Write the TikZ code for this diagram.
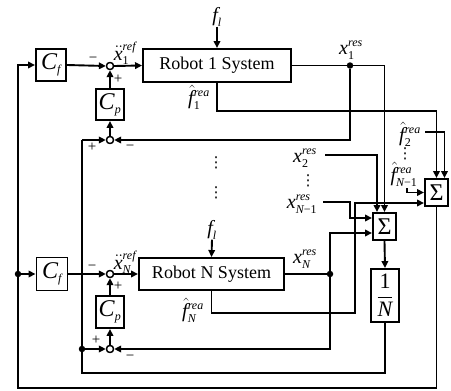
\documentclass[tikz,border=0pt]{standalone}
\usepackage{amsmath}
\usepackage{fontspec}
\setmainfont{Liberation Serif}
\newfontfamily\djv{DejaVu Sans}
\usetikzlibrary{arrows.meta,calc}
\newcommand\itl[1]{\text{\itshape #1}}
\newcommand\scr[1]{\text{\fontsize{12}{12}\selectfont\itshape #1}}
\newcommand\scu[1]{\text{\fontsize{12}{12}\selectfont #1}}
\begin{document}
\begin{tikzpicture}[x=1pt,y=-1pt,
  ln/.style={line width=1.9pt},
  tln/.style={line width=1.1pt},
  arr/.style={-{Triangle[length=7pt,width=6.5pt]}},
  blk/.style={draw, line width=1.9pt, inner sep=0pt, fill=white},
  sumj/.style={circle, draw, fill=white, line width=1.3pt, minimum size=7pt, inner sep=0pt},
  jdot/.style={circle, fill, inner sep=0pt, minimum size=6.5pt},
  lbl/.style={font=\fontsize{20}{22}\selectfont, inner sep=0pt},
  vdt/.style={font=\djv\fontsize{15}{15}\selectfont, inner sep=0pt},
  sgn/.style={font=\fontsize{15}{16}\selectfont, inner sep=0pt},
  bigc/.style={font=\fontsize{24}{26}\selectfont}]
\useasboundingbox (0,0) rectangle (451,391);

% ---- blocks ----
\node[blk,bigc,minimum width=30pt,minimum height=32pt] (cf1) at (51,65) {$\itl{C}_{\scr{f}}$};
\node[blk,bigc,minimum width=28pt,minimum height=31pt] (cp1) at (110,104.5) {$\itl{C}_{\scr{p}}$};
\node[blk,font=\fontsize{18}{20}\selectfont,minimum width=148pt,minimum height=33pt] (rb1) at (217,65.5) {Robot 1 System};
\node[blk,bigc,minimum width=31pt,minimum height=33pt] (cf2) at (52,274) {$\itl{C}_{\scr{f}}$};
\node[blk,bigc,minimum width=28pt,minimum height=32pt] (cp2) at (110,312) {$\itl{C}_{\scr{p}}$};
\node[blk,font=\fontsize{18}{20}\selectfont,minimum width=145pt,minimum height=32pt] (rbN) at (211.5,274) {Robot N System};
\node[blk,bigc,minimum width=23pt,minimum height=27pt] (S1) at (436.5,192.5) {Σ};
\node[blk,bigc,minimum width=23pt,minimum height=27pt] (S2) at (384.5,226.5) {Σ};
\node[blk,font=\fontsize{22}{24}\selectfont,minimum width=28pt,minimum height=53pt] (inv) at (385,295.5) {$\dfrac{\text{1}}{\itl{N}}$};

% ---- junctions and dots ----
\node[sumj] (sj1) at (110,66) {};
\node[sumj] (sj2) at (110,140) {};
\node[sumj] (sj3) at (110,274) {};
\node[sumj] (sj4) at (110,349) {};
\node[jdot] (d1) at (350,65.5) {};
\node[jdot] (dN) at (330,274) {};
\node[jdot] (dL) at (82,349) {};
\node[jdot] (dO) at (18,274) {};
\coordinate (tl) at (82,140);
\coordinate (bl2) at (82,373);
\coordinate (blc) at (18,388);
\coordinate (fnv) at (355,203);

% ---- labels ----
\node[lbl] (fl1) at (217,17) {$\itl{f}_{\scr{l}}$};
\node[lbl] (flN) at (212,230) {$\itl{f}_{\scr{l}}$};
\node[lbl] (xr1) at (125,53) {$\skew{1}\ddot{\itl{x}}_{\scu{1}}^{\scr{ref}}$};
\node[lbl] (xrN) at (125,262) {$\skew{1}\ddot{\itl{x}}_{\scr{N}}^{\scr{ref}}$};
\node[lbl] (x1) at (351,50) {$\itl{x}_{\scu{1}}^{\scr{res}}$};
\node[lbl] (fh1) at (199,97) {$\skew{2}\hat{\itl{f}}_{\scu{1}}^{\scr{rea}}$};
\node[lbl] (fhN) at (193,310) {$\skew{2}\hat{\itl{f}}_{\scr{N}}^{\scr{rea}}$};
\node[lbl] (x2) at (305,158) {$\itl{x}_{\scu{2}}^{\scr{res}}$};
\node[lbl] (xN1) at (302,204) {$\itl{x}_{\scr{N}\scu{−1}}^{\scr{res}}$};
\node[lbl] (xN) at (305,259) {$\itl{x}_{\scr{N}}^{\scr{res}}$};
\node[lbl] (fh2) at (410,134) {$\skew{2}\hat{\itl{f}}_{\scu{2}}^{\scr{rea}}$};
\node[lbl] (fhN1) at (404,174) {$\skew{2}\hat{\itl{f}}_{\scr{N}\scu{−1}}^{\scr{rea}}$};
\node[vdt] (vd1) at (216,163) {⋮};
\node[vdt] (vd2) at (216,193) {⋮};
\node[vdt] (vd3) at (308,181) {⋮};
\node[vdt] (vd4) at (405,154) {⋮};
\coordinate (x2c) at (325,155);
\coordinate (xn1c) at (323,202);
\coordinate (fh2c) at (425,132);
\coordinate (fn1c) at (407,188);

% signs
\node[sgn] at (93,60) {−};
\node[sgn] at (118,79) {+};
\node[sgn] at (92,147) {+};
\node[sgn] at (130,148) {−};
\node[sgn] at (92,268) {−};
\node[sgn] at (118,286) {+};
\node[sgn] at (96,340) {+};
\node[sgn] at (130,358) {−};

% ---- connectors: robot 1 ----
\draw[ln,arr] (cf1.east) -- (sj1.west);
\draw[ln,arr] (sj1.east) -- (rb1.west);
\draw[ln,arr] (fl1.south) -- (rb1.north);
\draw[ln,arr] (cp1.north) -- (sj1.south);
\draw[ln,arr] (sj2.north) -- (cp1.south);
\draw[ln,arr] (tl) -- (sj2.west);
\draw[ln,arr] (rb1.east) -| (S2.north);
\draw[ln,arr] (d1) |- (sj2.east);
\draw[ln,arr] (rb1.south) -- ++(0,28) -| (S1.north);
\draw[ln,arr] (fh2c) -| ([xshift=8pt]S1.north);
\draw[ln,arr] (fn1c) |- (S1.west);

% ---- connectors: robot N ----
\draw[ln,arr] (dO) -- (cf2.west);
\draw[ln,arr] (cf2.east) -- (sj3.west);
\draw[ln,arr] (sj3.east) -- (rbN.west);
\draw[ln,arr] (flN.south) -- (rbN.north);
\draw[ln,arr] (cp2.north) -- (sj3.south);
\draw[ln,arr] (sj4.north) -- (cp2.south);
\draw[ln,arr] (dL) -- (sj4.west);
\draw[ln] (rbN.east) -- (dN);
\draw[ln,arr] (dN) |- (sj4.east);
\draw[ln,arr] (dN) |- ([yshift=-6.5pt]S2.west);
\draw[ln,arr] (rbN.south) -- ++(0,22) -| (fnv) -- (fnv -| S1.west);

% ---- other inputs to sums ----
\draw[ln,arr] (x2c) -| ([xshift=-7.5pt]S2.north);
\draw[ln,arr] (xn1c) -- ++(27,0) |- ([yshift=8.5pt]S2.west);
\draw[ln,arr] (S2.south) -- (inv.north);

% ---- feedback loops ----
\draw[tln] (inv.south) |- (bl2) -- (tl);
\draw[ln,arr] (S1.south) |- (blc) |- (cf1.west);

% redraw junctions on top
\node[sumj] at (sj1) {};
\node[sumj] at (sj2) {};
\node[sumj] at (sj3) {};
\node[sumj] at (sj4) {};
\end{tikzpicture}
\end{document}
